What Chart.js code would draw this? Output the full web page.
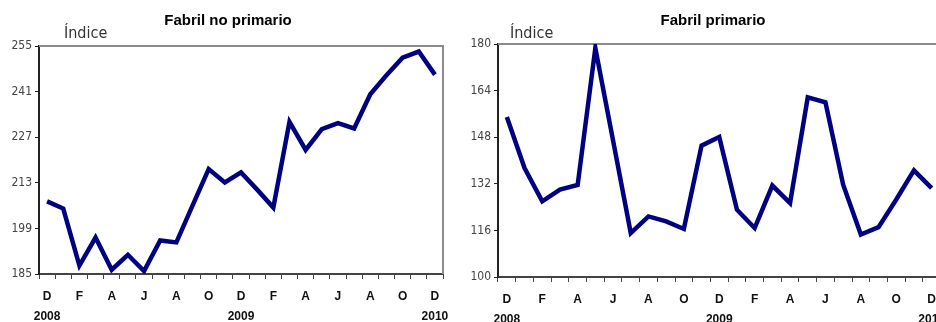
<!DOCTYPE html>
<html>
<head>
<meta charset="utf-8">
<script src="https://cdn.jsdelivr.net/npm/chart.js@4.4.1/dist/chart.umd.min.js"></script>
<style>
    html, body { margin: 0; padding: 0; background: #fff; overflow: hidden; width: 936px; height: 322px; }
    .box { position: absolute; top: 0; height: 322px; }
    #left { left: 0; width: 466px; }
    #right { left: 466px; width: 486px; }
</style>
</head>
<body>
<div class="box" id="left"><canvas id="chartNoPrim"></canvas></div>
<div class="box" id="right"><canvas id="chartPrim"></canvas></div>
<script>
// Dic 2008 - Dic 2010, mensual
const months = ['D','E','F','M','A','M','J','J','A','S','O','N','D','E','F','M','A','M','J','J','A','S','O','N','D'];
const yearPos = [0, 12, 24];
const yearLabels = ['2008', '2009', '2010'];

const noPrimario = [207.3, 205.1, 187.6, 196.2, 186.3, 190.9, 185.9, 195.3, 194.7, 206.0, 217.2, 213.1, 216.2,
                    210.9, 205.4, 231.7, 223.1, 229.5, 231.3, 229.7, 240.2, 246.0, 251.4, 253.3, 246.2];
const primario = [154.9, 137.4, 126.0, 130.0, 131.6, 178.6, 146.9, 115.1, 120.8, 119.1, 116.5, 145.1, 148.1,
                  123.1, 116.8, 131.4, 125.4, 161.7, 160.0, 131.7, 114.6, 117.1, 126.6, 136.6, 130.5];

const noPrimTicks = [185, 199, 213, 227, 241, 255];
const primTicks = [100, 116, 132, 148, 164, 180];

const NARROW = "'Liberation Sans Narrow', 'Arial Narrow', 'DejaVu Sans Condensed', sans-serif";
const SANS = "'Liberation Sans', Arial, sans-serif";

function xLabel(i) {
    if (i % 2) return '';
    const y = yearPos.indexOf(i);
    return y >= 0 ? [months[i], yearLabels[y]] : months[i];
}

// marco gris arriba/derecha + titulo + "Índice"
const framePlugin = {
    id: 'frame',
    beforeDatasetsDraw(chart, args, opts) {
        const { ctx, chartArea: a } = chart;
        ctx.save();
        ctx.strokeStyle = '#8c8c8c';
        ctx.lineWidth = 2;
        ctx.beginPath();
        ctx.moveTo(a.left, a.top);
        ctx.lineTo(a.right, a.top);
        ctx.lineTo(a.right, a.bottom);
        ctx.stroke();
        ctx.restore();
    },
    afterDraw(chart, args, opts) {
        const { ctx } = chart;
        ctx.save();
        ctx.fillStyle = '#000';
        ctx.font = 'bold 15px ' + SANS;
        ctx.textAlign = 'center';
        ctx.textBaseline = 'alphabetic';
        ctx.fillText(opts.title, opts.titleX, 25);
        ctx.fillStyle = '#333';
        ctx.font = '16px ' + NARROW;
        ctx.textAlign = 'left';
        ctx.fillText('Índice', opts.unitX, 38);
        ctx.restore();
    }
};

function makeChart(id, data, ticks, cfg) {
    return new Chart(document.getElementById(id), {
        type: 'line',
        data: {
            labels: months,
            datasets: [{
                data: data,
                borderColor: '#000080',
                borderWidth: 4.5,
                pointRadius: 0,
                tension: 0,
                fill: false,
            }],
        },
        options: {
            responsive: true,
            maintainAspectRatio: false,
            animation: false,
            layout: { padding: { top: cfg.top, right: cfg.right, left: 0, bottom: 0 } },
            plugins: {
                legend: { display: false },
                tooltip: { enabled: false },
                frame: { title: cfg.title, titleX: cfg.titleX, unitX: cfg.unitX },
            },
            scales: {
                x: {
                    offset: true,
                    grid: { offset: true, drawOnChartArea: false, tickLength: 5, color: '#444' },
                    border: { color: '#444', width: 2 },
                    ticks: {
                        autoSkip: false,
                        maxRotation: 0,
                        padding: 7,
                        color: '#111',
                        font: { family: SANS, size: 12, weight: 'bold', lineHeight: 1.7 },
                        callback: (v, i) => xLabel(i),
                    },
                    afterFit: s => { s.height = cfg.xh; },
                },
                y: {
                    min: ticks[0],
                    max: ticks[ticks.length - 1],
                    afterBuildTicks: s => { s.ticks = ticks.map(v => ({ value: v })); },
                    grid: { drawOnChartArea: false, tickLength: 4, color: '#222' },
                    border: { color: '#222', width: 2 },
                    ticks: {
                        padding: 3,
                        color: '#444',
                        font: { family: NARROW, size: 12 },
                    },
                    afterFit: s => { s.width = cfg.yw; },
                },
            },
        },
        plugins: [framePlugin],
    });
}

makeChart('chartNoPrim', noPrimario, noPrimTicks,
    { top: 46, right: 23, yw: 39, xh: 48, title: 'Fabril no primario', titleX: 228, unitX: 64 });
makeChart('chartPrim', primario, primTicks,
    { top: 44, right: 0, yw: 32, xh: 45, title: 'Fabril primario', titleX: 247, unitX: 44 });
</script>
</body>
</html>
